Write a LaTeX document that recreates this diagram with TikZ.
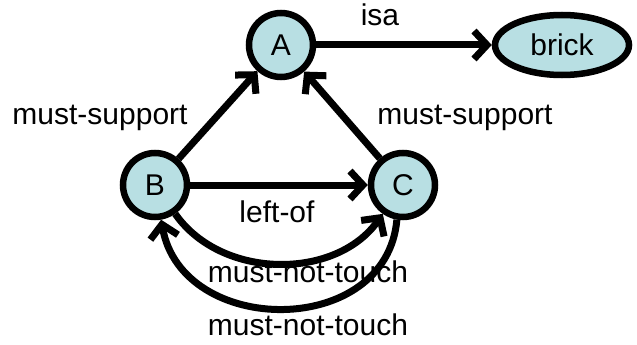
\documentclass[tikz,border=0pt]{standalone}
\usepackage{fontspec}
\setmainfont{Liberation Sans}
\usetikzlibrary{arrows.meta,shapes.geometric}
\definecolor{nodefill}{HTML}{B8DFE3}
\begin{document}
\begin{tikzpicture}[x=1pt,y=-1pt,
  every node/.style={font=\fontsize{30}{33}\selectfont},
  vertex/.style={circle,draw,line width=6.5pt,fill=nodefill,minimum size=64pt,inner sep=0pt},
  oval/.style={ellipse,draw,line width=6.5pt,fill=nodefill,minimum width=134pt,minimum height=60pt,inner sep=0pt},
  rel/.style={line width=7pt,-{Straight Barb[length=13pt,width=28pt]}},
  lbl/.style={inner sep=0pt}]
\useasboundingbox (0,0) rectangle (637,345);
\node[vertex] (A) at (281,45) {A};
\node[vertex] (B) at (155,185) {B};
\node[vertex] (C) at (403,185) {C};
\node[oval] (brick) at (562,45) {brick};
\draw[rel] (A) -- (brick);
\draw[rel] (B) -- (A);
\draw[rel] (C) -- (A);
\draw[rel] (B) -- (C);
\draw[rel] (B) to[out=-55,in=-125] (C);
\draw[rel] (C.-100) to[out=-95,in=-80,looseness=1.3] (B.-80);
\node[lbl] (lisa) at (380,15) {isa};
\node[lbl] (lms1) at (100,118) {must-support};
\node[lbl] (lms2) at (465,118) {must-support};
\node[lbl] (lleft) at (277,212) {left-of};
\node[lbl] (lmnt1) at (308,272) {must-not-touch};
\node[lbl] (lmnt2) at (308,325) {must-not-touch};
\end{tikzpicture}
\end{document}
